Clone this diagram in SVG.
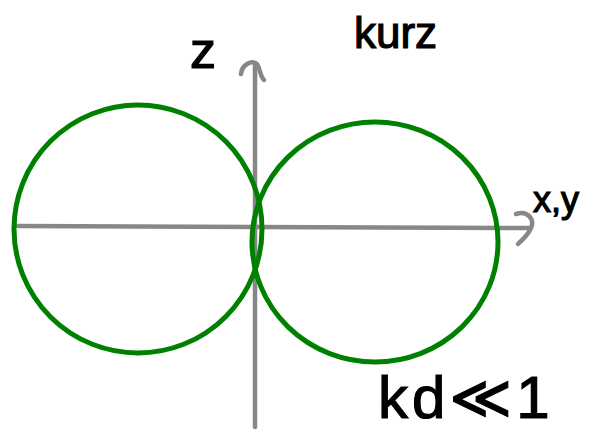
<svg xmlns="http://www.w3.org/2000/svg" width="603" height="430" viewBox="0 0 603 430">
<style>
.ax{fill:none;stroke:#878787;stroke-width:4.5;stroke-linecap:round;stroke-linejoin:round}
.c{fill:none;stroke:#008000;stroke-width:5}
.t{font-family:"Liberation Sans","DejaVu Sans",sans-serif;fill:#000;stroke:#000;stroke-width:1.2}
</style>
<rect width="603" height="430" fill="#fff"/>
<g id="axes">
<path class="ax" d="M18,226 L529,228"/>
<path class="ax" d="M516,214 C528,210 536,220 530,230 C527,236 522,240 518,244"/>
<path class="ax" d="M255,427 L255,64"/>
<path class="ax" d="M241,74 C242,64 252,60 257,64 C260,68 260,76 264,80"/>
</g>
<g id="left-lobe"><circle class="c" cx="138" cy="229" r="124"/></g>
<g id="right-lobe"><ellipse class="c" cx="375" cy="242" rx="123" ry="120"/></g>
<g id="labels">
<text class="t" x="190" y="68" font-size="52">z</text>
<text class="t" x="354" y="48" font-size="44">kurz</text>
<text class="t" x="533" y="212" font-size="36">x,y</text>
<text class="t" x="378" y="418" font-size="60" letter-spacing="4">kd≪1</text>
</g>
</svg>
